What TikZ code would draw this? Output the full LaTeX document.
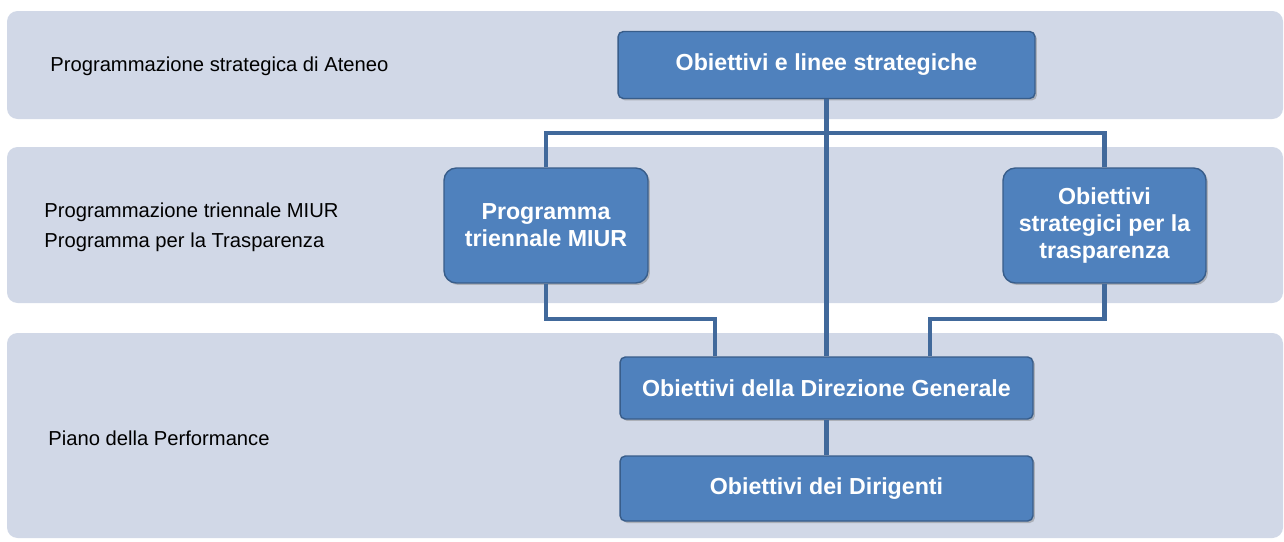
\documentclass[tikz,border=0pt]{standalone}
\usepackage{fontspec}
\setmainfont{Liberation Sans}
\usetikzlibrary{shadows}
\definecolor{bandgray}{RGB}{209,216,231}
\definecolor{boxblue}{RGB}{79,129,189}
\definecolor{boxedge}{RGB}{56,93,138}
\definecolor{linkblue}{RGB}{65,105,155}
\tikzset{
  band/.style={fill=bandgray,rounded corners=6pt},
  lbl/.style={anchor=west,inner sep=0pt,align=left,font=\fontsize{11.5}{17}\selectfont},
  obj/.style={draw=boxedge,line width=0.8pt,fill=boxblue,text=white,align=center,
    font=\fontsize{13.2}{15.5}\selectfont\bfseries,inner sep=2pt,
    drop shadow={opacity=0.45,shadow xshift=0.04cm,shadow yshift=-0.04cm}},
  link/.style={draw=linkblue,line width=2.5pt}
}
\begin{document}
\begin{tikzpicture}[x=0.02cm,y=-0.02cm]
    \useasboundingbox (0,0) rectangle (1284,541);
    % bands
    \fill[band] (7,11) rectangle (1283,119);
    \fill[band] (7,147) rectangle (1283,303);
    \fill[band] (7,333) rectangle (1283,538);
    \node[lbl] (ateneo) at (50,66) {Programmazione strategica di Ateneo};
    \node[lbl] (miur) at (44,227) {Programmazione triennale MIUR\\Programma per la Trasparenza};
    \node[lbl] (piano) at (48,438) {Piano della Performance};
    % boxes
    \node[obj,rounded corners=3pt,minimum width=8.34cm,minimum height=1.34cm] (top) at (826.5,65) {Obiettivi e linee strategiche};
    \node[obj,rounded corners=7pt,minimum width=4.08cm,minimum height=2.3cm] (prog) at (546,225.5) {Programma\\triennale MIUR};
    \node[obj,rounded corners=7pt,minimum width=4.06cm,minimum height=2.3cm] (trasp) at (1104.5,225.5) {Obiettivi\\strategici per la\\trasparenza};
    \node[obj,rounded corners=3pt,minimum width=8.26cm,minimum height=1.24cm] (dg) at (826.5,388) {Obiettivi della Direzione Generale};
    \node[obj,rounded corners=3pt,minimum width=8.26cm,minimum height=1.3cm] (dir) at (826.5,488.5) {Obiettivi dei Dirigenti};
    % connectors
    \coordinate (split) at (826.5,133);
    \coordinate (jl) at (715,319);
    \coordinate (jr) at (930,319);
    \draw[link] (prog.north) |- (split) -| (trasp.north);
    \draw[link] (top.south) -- (dg.north);
    \draw[link] (prog.south) |- (jl) -- (jl |- dg.north);
    \draw[link] (trasp.south) |- (jr) -- (jr |- dg.north);
    \draw[link] (dg.south) -- (dir.north);
\end{tikzpicture}
\end{document}
